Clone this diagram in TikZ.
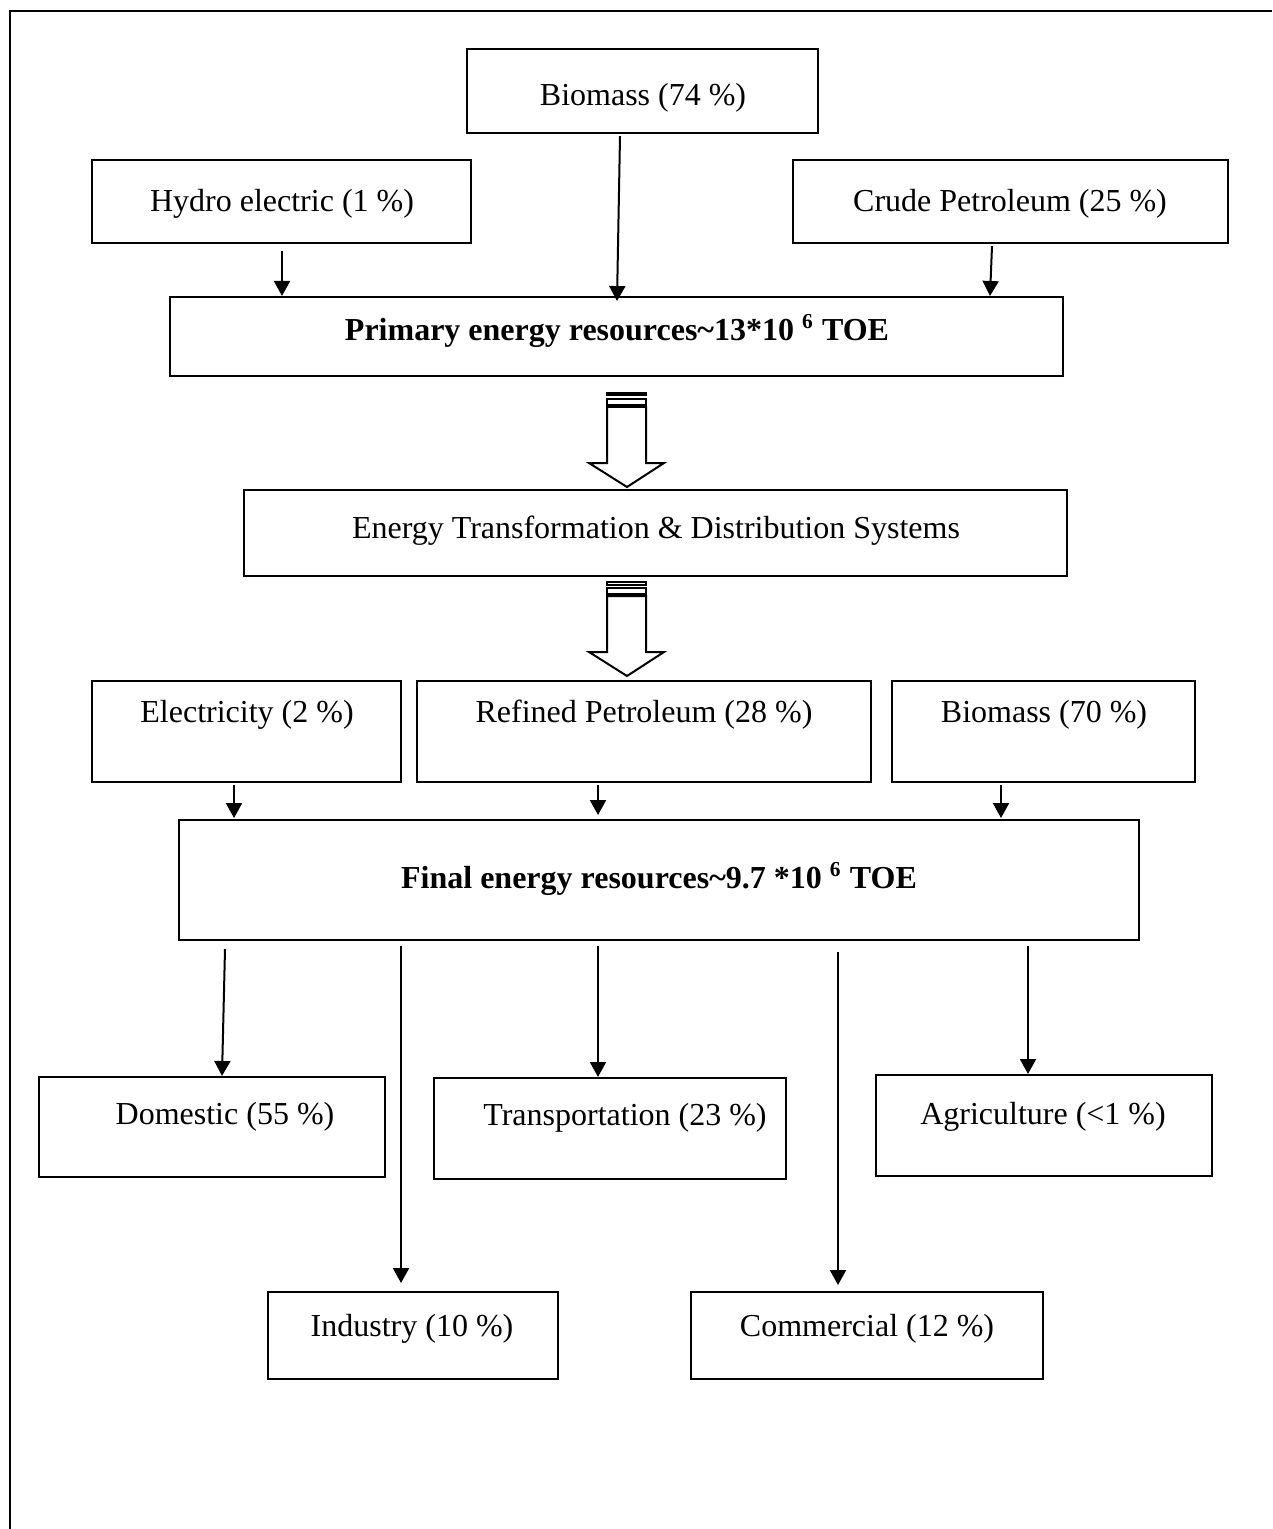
\documentclass[tikz,border=0pt]{standalone}
\usepackage{fontspec}
\setmainfont{Liberation Serif}
\usetikzlibrary{arrows.meta}
\tikzset{
  box/.style={draw, line width=0.8pt, rectangle, inner sep=0pt},
  txt/.style={anchor=base, inner sep=0pt, yshift=-0.6pt, font=\fontsize{12}{14}\selectfont},
  btxt/.style={txt, font=\fontsize{12}{14}\selectfont\bfseries},
  arr/.style={line width=0.75pt, -{Triangle[width=6pt,length=5.6pt]}},
  blk/.style={draw, line width=0.75pt, fill=white},
}
\newcommand{\mybox}[5]{\node[box, minimum width={(#4-#2)*0.375pt}, minimum height={(#5-#3)*0.375pt}] (#1) at ({(#2+#4)/2},{(#3+#5)/2}) {};}
\begin{document}
\begin{tikzpicture}[x=0.375pt, y=-0.375pt]
\useasboundingbox (0,0) rectangle (1272,1529);
% frame (only top and left visible)
\draw[line width=1.1pt] (10,1529) -- (10,11) -- (1272,11);

% boxes: corners in px
\mybox{bio1}{467}{49}{818}{133}
\mybox{hydro}{92}{160}{471}{243}
\mybox{crude}{793}{160}{1228}{243}
\mybox{primary}{170}{297}{1063}{376}
\mybox{etds}{244}{490}{1067}{576}
\mybox{elec}{92}{681}{401}{782}
\mybox{refined}{417}{681}{871}{782}
\mybox{bio2}{892}{681}{1195}{782}
\mybox{final}{179}{820}{1139}{940}
\mybox{dom}{39}{1077}{385}{1177}
\mybox{trans}{434}{1078}{786}{1179}
\mybox{agri}{876}{1075}{1212}{1176}
\mybox{ind}{268}{1292}{558}{1379}
\mybox{com}{691}{1292}{1043}{1379}

% texts
\node[txt] (tbio1) at (643,104) {Biomass (74 \%)};
\node[txt] (thydro) at (282,210) {Hydro electric (1 \%)};
\node[txt] (tcrude) at (1010,210) {Crude Petroleum (25 \%)};
\node[btxt] (tprimary) at (617,339) {Primary energy resources\textasciitilde13*10 \textsuperscript{6} TOE};
\node[txt] (tetds) at (656,537) {Energy Transformation \& Distribution Systems};
\node[txt] (telec) at (247,721) {Electricity (2 \%)};
\node[txt] (trefined) at (644,721) {Refined Petroleum (28 \%)};
\node[txt] (tbio2) at (1044,721) {Biomass (70 \%)};
\node[btxt] (tfinal) at (659,887) {Final energy resources\textasciitilde9.7 *10 \textsuperscript{6} TOE};
\node[txt] (tdom) at (225,1123) {Domestic (55 \%)};
\node[txt] (ttrans) at (625,1124) {Transportation (23 \%)};
\node[txt] (tagri) at (1043,1123) {Agriculture (<1 \%)};
\node[txt] (tind) at (412,1335) {Industry (10 \%)};
\node[txt] (tcom) at (867,1335) {Commercial (12 \%)};

% thin arrows
\draw[arr] (282,0 |- hydro.south) ++(0,7) -- (282,0 |- primary.north);
\draw[arr] (620,0 |- bio1.south) ++(0,2) -- (617,301);
\draw[arr] (992,0 |- crude.south) ++(0,2) -- (990,0 |- primary.north);
\draw[arr] (234,0 |- elec.south) ++(0,2) -- (234,818);
\draw[arr] (598,0 |- refined.south) ++(0,2) -- (598,815);
\draw[arr] (1001,0 |- bio2.south) ++(0,2) -- (1001,818);
\draw[arr] (225,0 |- final.south) ++(0,8) -- (222,0 |- dom.north);
\draw[arr] (401,0 |- final.south) ++(0,5) -- (401,1283);
\draw[arr] (598,0 |- final.south) ++(0,5) -- (598,0 |- trans.north);
\draw[arr] (838,0 |- final.south) ++(0,11) -- (838,1285);
\draw[arr] (1028,0 |- final.south) ++(0,5) -- (1028,0 |- agri.north);

% block arrows
\foreach \dy in {0,189}{
  \begin{scope}[yshift={-\dy*0.375pt}]
    \draw[blk] (607,393) rectangle (646,395.5);
    \draw[blk] (607,399) rectangle (646,405);
    \draw[blk] (607,407) -- (646,407) -- (646,463) -- (664,463) -- (627,487) -- (589,463) -- (607,463) -- cycle;
  \end{scope}
}
\end{tikzpicture}
\end{document}
